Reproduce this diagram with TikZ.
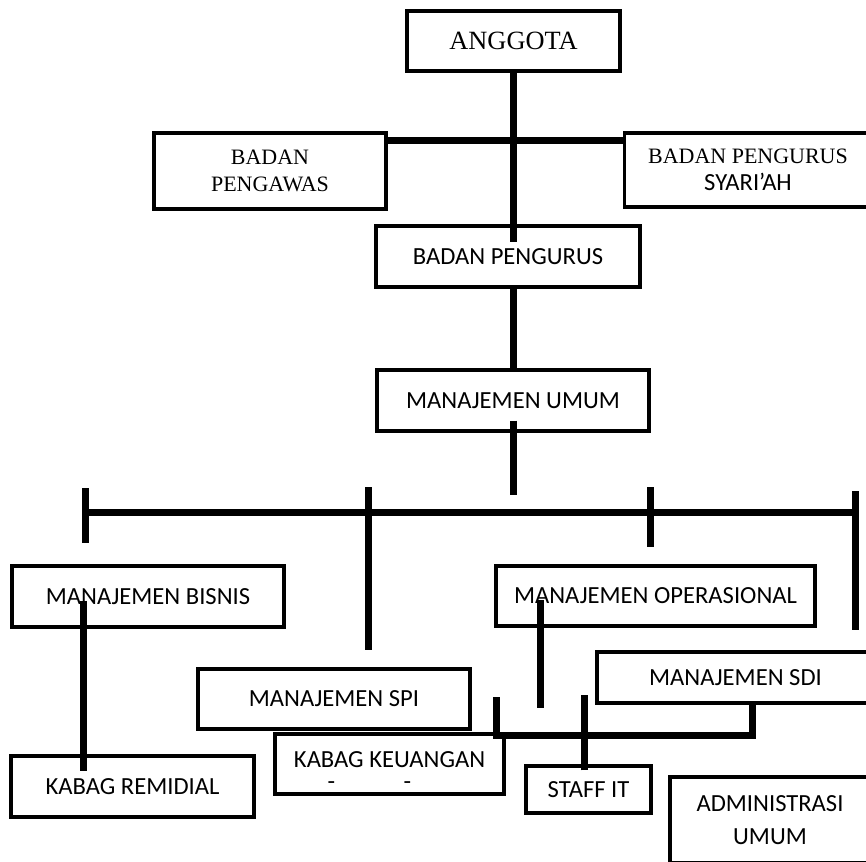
\documentclass[tikz,border=0pt]{standalone}
\usepackage{fontspec}
\setmainfont{Liberation Serif}
\newfontfamily\calibri{Carlito}

\begin{document}
\begin{tikzpicture}[
    % one unit = one pixel of the chart, y runs downwards
    x=0.2mm, y=-0.2mm,
    % box style
    mybox/.style={
        rectangle, % shape
        draw=black, % border
        line width=0.65mm, % border width
        inner sep=0pt,
        align=center
        },
    % thick connector lines
    myline/.style={line width=1.4mm}
    ]
    \useasboundingbox (0,0) rectangle (866,861);
    \clip (0,0) rectangle (866,861);
    % ========== boxes ==========
    \foreach \name/\x/\y/\w/\h/\fnt/\txt in {
        anggota/513.5/41/213/60/{\rmfamily\fontsize{15}{18}\selectfont}/{ANGGOTA},
        pengawas/270/171/232/76/{\rmfamily\fontsize{12.5}{15.3}\selectfont}/{BADAN\\PENGAWAS},
        syariah/748/170/247/74/{\calibri\fontsize{14}{15.3}\selectfont}/{{\rmfamily\fontsize{12.5}{15.3}\selectfont BADAN PENGURUS}\\SYARI’AH},
        pengurus/508/256.5/264/61/{\calibri\fontsize{14}{17}\selectfont}/{BADAN PENGURUS},
        umum/513/400.5/272/61/{\calibri\fontsize{14}{17}\selectfont}/{MANAJEMEN UMUM},
        bisnis/148/596.5/272/61/{\calibri\fontsize{14}{17}\selectfont}/{MANAJEMEN BISNIS},
        operasional/655.5/596/319/60/{\calibri\fontsize{14}{17}\selectfont}/{MANAJEMEN OPERASIONAL},
        spi/334/699/272/60/{\calibri\fontsize{14}{17}\selectfont}/{MANAJEMEN SPI},
        sdi/735.5/677.5/277/51/{\calibri\fontsize{14}{17}\selectfont}/{MANAJEMEN SDI},
        keuangan/389.5/764/229/60/{\calibri\fontsize{14}{13}\selectfont}/{\rule{0pt}{5.8mm}KABAG KEUANGAN\\-\hspace{13.7mm}-\hspace*{8mm}},
        remidial/132.5/786.5/243/61/{\calibri\fontsize{14}{17}\selectfont}/{KABAG REMIDIAL},
        staffit/588.5/789.5/125/47/{\calibri\fontsize{14}{17}\selectfont}/{STAFF IT},
        admin/770/820/200/86/{\calibri\fontsize{14}{19}\selectfont}/{ADMINISTRASI\\UMUM}} {
        \node [mybox, font=\fnt, minimum width=\w*0.2mm, minimum height=\h*0.2mm] (\name) at (\x,\y) {\txt};
    }
    % ========== upper connectors ==========
    \draw [myline] (anggota.south) -- ++(0,169);
    \coordinate (topbar) at ([yshift=6.2mm]pengawas.east);
    \draw [myline] (topbar) -- (topbar -| syariah.west);
    \draw [myline] (umum.north) -- (umum.north |- pengurus.south);
    \draw [myline] ([yshift=2.4mm]umum.south) -- ++(0,74);
    % ========== bus and its ticks ==========
    \coordinate (busL) at (85,512);
    \coordinate (busR) at (855,512);
    \draw [myline] (busL) -- (busR);
    \foreach \name/\x/\up/\down in {tA/85/24/31, tB/368/25/138, tC/650/25/35, tD/855/21/118} {
        \coordinate (\name) at (busL -| \x,0);
        \draw [myline] (\name) ++(0,-\up) -- ++(0,\up+\down);
    }
    % ========== lower connectors ==========
    \draw [myline] (bisnis.west) ++(73,4) -- ++(0,170);
    \draw [myline] (operasional.west) ++(46,4) -- ++(0,108);
    \draw [myline] (spi.east) ++(25,-2) -- ++(0,38) -| ([xshift=3.3mm,yshift=0.8mm]sdi.south);
    \draw [myline] ([xshift=-0.9mm,yshift=-1.2mm]staffit.north) -- ++(0,-75);
\end{tikzpicture}
\end{document}
